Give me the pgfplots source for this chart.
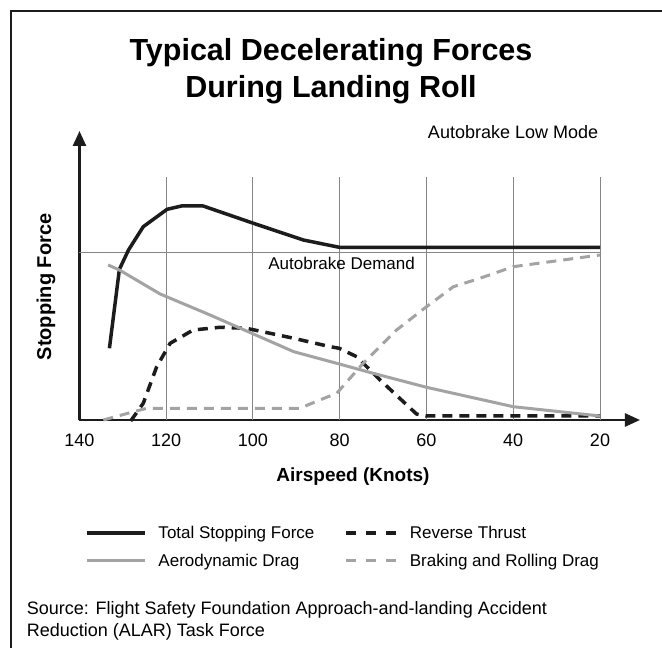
\documentclass[border=0pt]{standalone}
\usepackage{fontspec}
\setmainfont{Liberation Sans}
\usepackage{pgfplots}
\pgfplotsset{compat=1.18}
\usetikzlibrary{arrows.meta}
\definecolor{cblack}{HTML}{1C1C1C}
\definecolor{cgray}{HTML}{A3A3A3}
\definecolor{cgrid}{HTML}{858585}
\pgfplotsset{
  solidleg/.style={legend image code/.code={\draw[##1] (0pt,0pt) -- (58pt,0pt);}},
  dashleg/.style={legend image code/.code={\draw[##1, dash pattern=on 10pt off 10pt] (0pt,0pt) -- (50pt,0pt);}},
}
\begin{document}
\begin{tikzpicture}[x=1pt,y=1pt]
\useasboundingbox (0,0) rectangle (662,648);
\fill[white] (0,0) rectangle (662,648);
\draw[line width=1.3pt, cblack] (11,0) -- (11,637) -- (662,637);
\node[font=\fontsize{30.5}{36}\bfseries\selectfont, anchor=base] at (331,587.3) {Typical Decelerating Forces};
\node[font=\fontsize{30.5}{36}\bfseries\selectfont, anchor=base] at (331,550.7) {During Landing Roll};
\node[font=\fontsize{18}{22}\selectfont, anchor=base east, inner sep=0pt] at (598.3,509) {Autobrake Low Mode};
\node[rotate=90, font=\fontsize{20}{24}\bfseries\selectfont] at (46,361) {Stopping Force};
\node[anchor=base, font=\fontsize{19}{24}\bfseries\selectfont] at (353,166.3) {Airspeed (Knots)};
\node[anchor=base west, inner sep=0pt, font=\fontsize{18}{22}\selectfont] at (26.7,33) {Source: Flight Safety Foundation Approach-and-landing Accident};
\node[anchor=base west, inner sep=0pt, font=\fontsize{18}{22}\selectfont] at (26.7,11.3) {Reduction (ALAR) Task Force};
\begin{axis}[
  at={(79.5pt,228pt)}, anchor=south west,
  scale only axis, width=560.5pt, height=289pt,
  x dir=reverse, xmin=10.78, xmax=140, ymin=0, ymax=289,
  axis x line=bottom, axis y line=left,
  axis line style={line width=2.5pt, cblack},
  x axis line style={{Triangle[length=15pt,width=13pt]}-},
  y axis line style={-{Triangle[length=15pt,width=13pt]}},
  xtick={140,120,100,80,60,40,20}, ytick=\empty,
  major tick length=0pt,
  xticklabel style={font=\fontsize{18}{20}\selectfont, yshift=-10pt},
  /pgf/number format/assume math mode=true,
  clip=false,
  legend columns=2,
  legend cell align=left,
  legend style={at={(0.0098,-0.3678)}, anchor=north west, draw=none, fill=none,
    inner sep=0pt, outer sep=0pt, font=\fontsize{17}{20}\selectfont,
    row sep=13.6pt, nodes={inner sep=0pt},
    /tikz/every odd column/.style={column sep=12pt},
    /tikz/column 2/.style={column sep=30pt}},
]
\addplot[ycomb, cgrid, line width=1pt, no marks, forget plot] coordinates {(120,243) (100,243) (80,243) (60,243) (40,243) (20,243)};
\addplot[cgrid, line width=1pt, no marks, forget plot] coordinates {(140,167) (20,167)};
\node[anchor=base west, inner sep=0pt, font=\fontsize{17}{20}\selectfont] at (axis cs:96.5,150) {Autobrake Demand};

\addplot[cblack, line width=3.5pt, no marks, line join=round, solidleg] coordinates {
(133.1,71.7) (130.8,150.7) (128.7,170) (125.3,193.3) (119.8,210.7) (116.5,214) (111.5,214) (99.9,196.7) (88.4,180) (80.1,172.7) (20,172.7)};
\addlegendentry{Total Stopping Force}

\addplot[cblack, line width=3.5pt, no marks, dash pattern=on 10pt off 7pt, dashleg] coordinates {
(128.2,-1) (125.3,16.7) (122.2,53.3) (119.1,76.7) (113.8,90) (107.6,92.7) (101.5,91.7) (90.6,81.7) (82.2,73.3) (80.1,71.7) (76.1,63.3) (70.7,40) (62.3,6) (60,4) (20,4)};
\addlegendentry{Reverse Thrust}

\addplot[cgray, line width=3pt, no marks, line join=round, solidleg] coordinates {
(133.4,155) (130.8,150) (121.4,126) (109.9,105) (99.9,86) (90.6,68.3) (80.1,56) (72.3,46.7) (60,32.7) (40,13.3) (20,4)};
\addlegendentry{Aerodynamic Drag}

\addplot[cgray, line width=3pt, no marks, dash pattern=on 10pt off 7pt, dashleg] coordinates {
(134.5,0) (127.5,8.3) (124.5,11.7) (89.2,11.7) (84.6,20) (80.7,26.7) (74.6,56.7) (66.9,90) (60,113.3) (53.8,133.3) (47.7,141.7) (40,153.3) (20,165)};
\addlegendentry{Braking and Rolling Drag}
\end{axis}
\end{tikzpicture}
\end{document}
